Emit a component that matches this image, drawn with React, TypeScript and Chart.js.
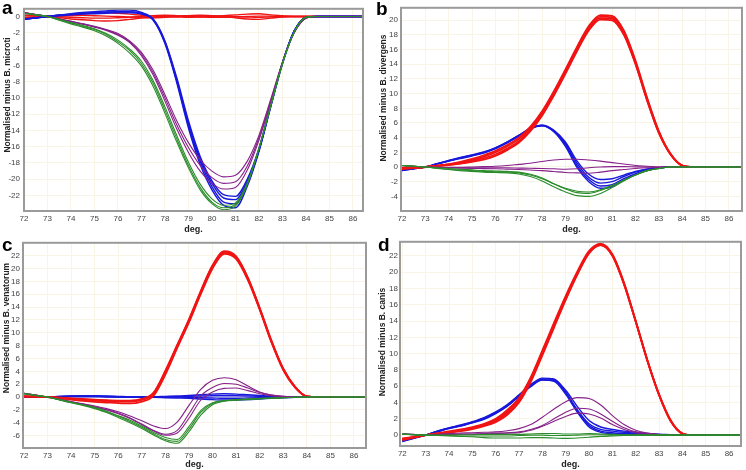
import React, { useEffect, useRef } from "react";
import { Chart, registerables } from "chart.js";
Chart.register(...registerables);

// ---------- data ----------
const TEMPS = [72, 72.5, 73, 73.5, 74, 74.5, 75, 75.5, 76, 76.5, 77, 77.5, 78, 78.5, 79, 79.5, 80, 80.5, 81, 81.5, 82, 82.5, 83, 83.5, 84, 84.5, 85.5, 86.5];
const X_TICKS = [72, 73, 74, 75, 76, 77, 78, 79, 80, 81, 82, 83, 84, 85, 86];
const Y_TICKS_A = [-22, -20, -18, -16, -14, -12, -10, -8, -6, -4, -2, 0];
const Y_TICKS_B = [-4, -2, 0, 2, 4, 6, 8, 10, 12, 14, 16, 18, 20];
const Y_TICKS_C = [-6, -4, -2, 0, 2, 4, 6, 8, 10, 12, 14, 16, 18, 20, 22];
const Y_TICKS_D = [0, 2, 4, 6, 8, 10, 12, 14, 16, 18, 20, 22];

// Panel a: Normalised minus B. microti
const A_RED_1 = [-0.2, -0.1, 0, -0.15, -0.3, -0.4, -0.5, -0.55, -0.5, -0.35, -0.2, -0.1, 0, 0.05, 0.1, 0.1, 0.05, 0, -0.15, -0.3, -0.35, -0.2, -0.05, 0, 0, 0, 0, 0];
const A_RED_2 = [0.1, 0.05, 0, 0.15, 0.25, 0.35, 0.45, 0.5, 0.4, 0.3, 0.15, 0.05, 0, -0.05, -0.1, -0.05, 0, 0.1, 0.2, 0.3, 0.35, 0.2, 0.1, 0, 0, 0, 0, 0];
const A_RED_3 = [-0.1, -0.05, 0, -0.05, -0.1, -0.15, -0.2, -0.2, -0.15, -0.1, 0, 0.1, 0.15, 0.1, 0, -0.05, -0.1, -0.1, -0.05, 0, 0.05, 0.05, 0, 0, 0, 0, 0, 0];
const A_RED_4 = [0.2, 0.1, 0, 0.05, 0.1, 0.15, 0.1, 0.05, 0, -0.05, -0.1, -0.15, -0.1, 0, 0.1, 0.15, 0.1, 0.05, 0, -0.05, -0.1, -0.05, 0, 0, 0, 0, 0, 0];
const A_BLUE_1 = [-0.3, -0.15, 0, 0.2, 0.35, 0.5, 0.6, 0.7, 0.8, 0.8, 0.5, -0.3, -3.0, -7.5, -12.8, -17.2, -20.2, -21.9, -22.1, -20.0, -16.2, -10.9, -5.7, -1.8, -0.1, 0, 0, 0];
const A_BLUE_2 = [-0.3, -0.15, 0, 0.15, 0.3, 0.4, 0.5, 0.55, 0.6, 0.6, 0.4, -0.35, -3.1, -7.7, -13.1, -17.5, -20.5, -22.3, -22.5, -20.3, -16.4, -11.0, -5.7, -1.8, -0.1, 0, 0, 0];
const A_BLUE_3 = [-0.35, -0.2, 0, 0.1, 0.2, 0.3, 0.35, 0.4, 0.45, 0.45, 0.3, -0.4, -3.2, -7.9, -13.4, -17.8, -20.9, -22.8, -23.0, -20.6, -16.5, -11.1, -5.8, -1.8, -0.1, 0, 0, 0];
const A_BLUE_4 = [-0.35, -0.2, 0, 0.15, 0.25, 0.35, 0.45, 0.5, 0.55, 0.55, 0.35, -0.45, -3.3, -8.1, -13.7, -18.2, -21.3, -23.2, -23.5, -20.9, -16.6, -11.1, -5.8, -1.8, -0.1, 0, 0, 0];
const A_PURPLE_1 = [0.5, 0.25, 0, -0.3, -0.6, -0.9, -1.2, -1.6, -2.1, -3.0, -4.4, -6.6, -9.6, -12.8, -15.5, -17.6, -19.0, -19.7, -19.5, -17.8, -14.6, -10.2, -5.6, -2.0, -0.2, 0, 0, 0];
const A_PURPLE_2 = [0.5, 0.25, 0, -0.3, -0.6, -0.9, -1.25, -1.65, -2.2, -3.1, -4.6, -6.9, -10.0, -13.3, -16.1, -18.3, -19.8, -20.5, -20.3, -18.4, -14.9, -10.4, -5.7, -2.0, -0.2, 0, 0, 0];
const A_PURPLE_3 = [0.5, 0.25, 0, -0.3, -0.65, -0.95, -1.3, -1.7, -2.3, -3.2, -4.8, -7.2, -10.4, -13.8, -16.7, -19.0, -20.5, -21.2, -21.0, -18.9, -15.2, -10.6, -5.7, -2.0, -0.2, 0, 0, 0];
const A_GREEN_1 = [0.4, 0.2, 0, -0.35, -0.75, -1.1, -1.5, -2.1, -2.9, -4.0, -5.5, -7.9, -11.1, -14.6, -17.9, -20.6, -22.4, -23.2, -22.9, -20.5, -16.2, -11.0, -5.8, -1.9, -0.1, 0, 0, 0];
const A_GREEN_2 = [0.4, 0.2, 0, -0.4, -0.8, -1.2, -1.6, -2.2, -3.1, -4.2, -5.8, -8.2, -11.5, -15.0, -18.3, -21.0, -22.8, -23.5, -23.1, -20.6, -16.2, -11.0, -5.8, -1.9, -0.1, 0, 0, 0];
const A_GREEN_3 = [0.4, 0.2, 0, -0.45, -0.9, -1.3, -1.75, -2.4, -3.3, -4.5, -6.1, -8.6, -11.9, -15.4, -18.6, -21.3, -23.0, -23.75, -23.3, -20.7, -16.3, -11.0, -5.8, -1.9, -0.1, 0, 0, 0];

// Panel b: Normalised minus B. divergens
const B_RED_1 = [-0.2, -0.1, 0, 0.15, 0.3, 0.5, 0.8, 1.2, 1.7, 2.5, 3.5, 5.1, 7.2, 9.9, 12.9, 16.0, 18.8, 20.3, 20.2, 18.2, 14.1, 9.1, 4.7, 1.7, 0.2, 0, 0, 0];
const B_RED_2 = [-0.2, -0.1, 0, 0.15, 0.35, 0.6, 0.95, 1.4, 2.0, 2.8, 3.8, 5.3, 7.4, 10.1, 13.1, 16.2, 19.0, 20.5, 20.4, 18.4, 14.3, 9.3, 4.8, 1.8, 0.2, 0, 0, 0];
const B_RED_3 = [-0.3, -0.15, 0, 0.2, 0.4, 0.7, 1.1, 1.6, 2.2, 3.0, 4.0, 5.5, 7.6, 10.3, 13.3, 16.4, 19.2, 20.7, 20.6, 18.6, 14.5, 9.4, 4.9, 1.8, 0.2, 0, 0, 0];
const B_RED_4 = [-0.1, -0.05, 0, 0.1, 0.25, 0.45, 0.7, 1.0, 1.5, 2.3, 3.3, 4.9, 7.0, 9.7, 12.7, 15.8, 18.6, 20.1, 20.0, 18.0, 14.0, 9.0, 4.6, 1.7, 0.2, 0, 0, 0];
const B_BLUE_1 = [-0.4, -0.2, 0, 0.4, 0.8, 1.15, 1.5, 1.9, 2.5, 3.3, 4.2, 5.2, 5.6, 5.0, 3.4, 0.8, -1.0, -1.7, -1.6, -1.1, -0.6, -0.3, -0.1, 0, 0, 0, 0, 0];
const B_BLUE_2 = [-0.4, -0.2, 0, 0.4, 0.8, 1.2, 1.55, 1.95, 2.5, 3.3, 4.2, 5.2, 5.7, 5.0, 3.2, 0.5, -1.4, -2.2, -2.0, -1.3, -0.7, -0.3, -0.1, 0, 0, 0, 0, 0];
const B_BLUE_3 = [-0.5, -0.25, 0, 0.45, 0.85, 1.25, 1.6, 2.0, 2.6, 3.4, 4.3, 5.3, 5.7, 4.9, 3.0, 0.2, -1.7, -2.6, -2.4, -1.6, -0.9, -0.4, -0.1, 0, 0, 0, 0, 0];
const B_BLUE_4 = [-0.5, -0.25, 0, 0.45, 0.9, 1.3, 1.65, 2.05, 2.6, 3.4, 4.3, 5.3, 5.6, 4.8, 2.8, -0.1, -2.0, -2.9, -2.7, -1.8, -1.0, -0.5, -0.15, 0, 0, 0, 0, 0];
const B_PURPLE_1 = [0.2, 0.1, 0, -0.05, -0.05, -0.05, 0, 0.05, 0.1, 0.2, 0.35, 0.5, 0.75, 0.95, 1.05, 1.05, 0.95, 0.8, 0.6, 0.4, 0.2, 0.1, 0, 0, 0, 0, 0, 0];
const B_PURPLE_2 = [0.2, 0.1, 0, -0.05, -0.1, -0.1, -0.1, -0.1, -0.1, -0.12, -0.15, -0.18, -0.2, -0.25, -0.3, -0.25, -0.1, 0, 0.05, 0.05, 0.02, 0, 0, 0, 0, 0, 0, 0];
const B_PURPLE_3 = [0.2, 0.1, 0, -0.05, -0.1, -0.15, -0.2, -0.22, -0.25, -0.3, -0.35, -0.42, -0.5, -0.62, -0.75, -0.8, -0.85, -0.7, -0.5, -0.35, -0.2, -0.1, -0.05, 0, 0, 0, 0, 0];
const B_GREEN_1 = [0.2, 0.1, 0, -0.15, -0.3, -0.4, -0.5, -0.6, -0.65, -0.7, -0.8, -1.1, -1.6, -2.3, -2.9, -3.3, -3.4, -3.1, -2.5, -1.8, -1.1, -0.5, -0.2, 0, 0, 0, 0, 0];
const B_GREEN_2 = [0.2, 0.1, 0, -0.1, -0.2, -0.3, -0.4, -0.5, -0.55, -0.6, -0.7, -1.0, -1.5, -2.3, -3.0, -3.5, -3.6, -3.2, -2.6, -1.8, -1.1, -0.5, -0.2, 0, 0, 0, 0, 0];
const B_GREEN_3 = [0.2, 0.1, 0, -0.2, -0.35, -0.5, -0.6, -0.7, -0.75, -0.8, -0.95, -1.3, -1.9, -2.7, -3.4, -3.9, -4.0, -3.6, -2.8, -1.9, -1.1, -0.5, -0.2, 0, 0, 0, 0, 0];

// Panel c: Normalised minus B. venatorum
const C_RED_1 = [0.1, 0.05, 0, -0.15, -0.3, -0.45, -0.55, -0.65, -0.7, -0.7, -0.45, 0.5, 3.8, 7.8, 11.8, 16.2, 20.2, 22.4, 21.6, 18.3, 13.7, 8.6, 4.3, 1.5, 0.1, 0, 0, 0];
const C_RED_2 = [0.1, 0.05, 0, -0.2, -0.4, -0.6, -0.75, -0.85, -0.95, -1.0, -0.7, 0.2, 3.5, 7.6, 11.6, 16.0, 20.0, 22.3, 21.5, 18.2, 13.6, 8.5, 4.2, 1.5, 0.1, 0, 0, 0];
const C_RED_3 = [0.1, 0.05, 0, -0.1, -0.2, -0.3, -0.4, -0.5, -0.55, -0.55, -0.3, 0.7, 4.1, 8.1, 12.1, 16.5, 20.5, 22.7, 21.9, 18.6, 13.9, 8.8, 4.4, 1.6, 0.1, 0, 0, 0];
const C_RED_4 = [0.1, 0.05, 0, -0.1, -0.25, -0.35, -0.45, -0.55, -0.6, -0.6, -0.35, 0.6, 4.0, 8.0, 12.0, 16.4, 20.4, 22.6, 21.8, 18.5, 13.8, 8.7, 4.4, 1.6, 0.1, 0, 0, 0];
const C_BLUE_1 = [0, 0, 0, 0.1, 0.15, 0.2, 0.2, 0.15, 0.1, 0.05, 0.05, 0.05, 0.1, 0.15, 0.25, 0.35, 0.45, 0.5, 0.45, 0.35, 0.25, 0.15, 0.05, 0, 0, 0, 0, 0];
const C_BLUE_2 = [0, 0, 0, 0.05, 0.1, 0.1, 0.1, 0.05, 0, 0, 0, 0, 0, 0, -0.05, -0.1, -0.15, -0.2, -0.2, -0.15, -0.1, -0.05, 0, 0, 0, 0, 0, 0];
const C_BLUE_3 = [0, 0, 0, 0.05, 0.05, 0.05, 0.05, 0, 0, -0.05, -0.05, -0.05, -0.1, -0.15, -0.2, -0.3, -0.4, -0.45, -0.45, -0.4, -0.3, -0.2, -0.1, -0.05, 0, 0, 0, 0];
const C_BLUE_4 = [0.05, 0.02, 0, 0.1, 0.15, 0.15, 0.15, 0.1, 0.05, 0, 0, 0, 0.05, 0.05, 0.1, 0.15, 0.2, 0.2, 0.2, 0.15, 0.1, 0.05, 0, 0, 0, 0, 0, 0];
const C_PURPLE_1 = [0.6, 0.3, 0, -0.35, -0.7, -1.05, -1.4, -1.8, -2.3, -2.95, -3.7, -4.5, -4.9, -3.9, -1.3, 1.2, 2.6, 3.0, 2.7, 1.7, 0.8, 0.3, 0.1, 0, 0, 0, 0, 0];
const C_PURPLE_2 = [0.6, 0.3, 0, -0.35, -0.75, -1.1, -1.5, -1.95, -2.5, -3.25, -4.2, -5.2, -5.8, -5.2, -2.6, 0.2, 1.5, 2.1, 2.0, 1.4, 0.7, 0.3, 0.1, 0, 0, 0, 0, 0];
const C_PURPLE_3 = [0.6, 0.3, 0, -0.4, -0.8, -1.15, -1.55, -2.0, -2.6, -3.35, -4.3, -5.3, -5.95, -5.6, -3.3, -0.5, 0.8, 1.35, 1.4, 1.0, 0.5, 0.2, 0.05, 0, 0, 0, 0, 0];
const C_GREEN_1 = [0.5, 0.25, 0, -0.4, -0.8, -1.2, -1.6, -2.2, -2.9, -3.6, -4.5, -5.5, -6.3, -6.6, -4.6, -2.1, -0.9, -0.55, -0.4, -0.3, -0.2, -0.15, -0.1, -0.05, 0, 0, 0, 0];
const C_GREEN_2 = [0.5, 0.25, 0, -0.4, -0.85, -1.25, -1.7, -2.3, -3.0, -3.8, -4.7, -5.7, -6.6, -6.9, -5.0, -2.4, -1.0, -0.6, -0.45, -0.35, -0.25, -0.15, -0.1, -0.05, 0, 0, 0, 0];
const C_GREEN_3 = [0.5, 0.25, 0, -0.45, -0.9, -1.3, -1.8, -2.4, -3.2, -4.0, -4.9, -5.9, -6.8, -7.2, -5.4, -2.8, -1.2, -0.65, -0.5, -0.4, -0.3, -0.2, -0.1, -0.05, 0, 0, 0, 0];

// Panel d: Normalised minus B. canis
const D_RED_1 = [-0.5, -0.25, 0, 0.2, 0.4, 0.6, 0.9, 1.3, 1.9, 2.9, 4.4, 6.9, 10.2, 13.6, 16.9, 19.9, 22.4, 23.3, 22.0, 18.5, 13.9, 9.1, 4.9, 1.7, 0.2, 0, 0, 0];
const D_RED_2 = [-0.6, -0.3, 0, 0.15, 0.3, 0.5, 0.75, 1.1, 1.6, 2.5, 4.0, 6.5, 9.8, 13.2, 16.6, 19.7, 22.3, 23.3, 22.0, 18.5, 13.9, 9.1, 4.9, 1.7, 0.2, 0, 0, 0];
const D_RED_3 = [-0.4, -0.2, 0, 0.25, 0.45, 0.7, 1.0, 1.4, 2.0, 3.1, 4.6, 7.1, 10.4, 13.8, 17.1, 20.1, 22.6, 23.5, 22.2, 18.7, 14.0, 9.2, 5.0, 1.8, 0.2, 0, 0, 0];
const D_RED_4 = [-0.5, -0.25, 0, 0.2, 0.35, 0.55, 0.85, 1.2, 1.75, 2.7, 4.2, 6.7, 10.0, 13.4, 16.7, 19.8, 22.4, 23.4, 22.1, 18.6, 14.0, 9.2, 5.0, 1.8, 0.2, 0, 0, 0];
const D_BLUE_1 = [-0.7, -0.35, 0, 0.5, 0.9, 1.2, 1.6, 2.1, 2.8, 3.7, 4.9, 6.1, 6.9, 6.8, 5.5, 3.5, 1.8, 1.0, 0.7, 0.5, 0.35, 0.2, 0.1, 0.05, 0, 0, 0, 0];
const D_BLUE_2 = [-0.7, -0.35, 0, 0.45, 0.85, 1.15, 1.55, 2.0, 2.7, 3.6, 4.8, 6.0, 6.8, 6.7, 5.2, 3.1, 1.4, 0.7, 0.5, 0.35, 0.25, 0.15, 0.1, 0.05, 0, 0, 0, 0];
const D_BLUE_3 = [-0.8, -0.4, 0, 0.5, 0.9, 1.25, 1.65, 2.15, 2.85, 3.75, 4.95, 6.2, 7.0, 6.9, 5.3, 3.0, 1.2, 0.5, 0.3, 0.2, 0.15, 0.1, 0.05, 0, 0, 0, 0, 0];
const D_BLUE_4 = [-0.6, -0.3, 0, 0.4, 0.8, 1.1, 1.5, 1.95, 2.65, 3.55, 4.75, 5.95, 6.75, 6.6, 5.0, 2.8, 1.0, 0.35, 0.15, 0.1, 0.1, 0.05, 0, 0, 0, 0, 0, 0];
const D_PURPLE_1 = [0.2, 0.1, 0, 0.1, 0.2, 0.25, 0.3, 0.35, 0.4, 0.55, 0.8, 1.3, 2.2, 3.2, 4.1, 4.6, 4.5, 3.7, 2.4, 1.3, 0.6, 0.25, 0.1, 0, 0, 0, 0, 0];
const D_PURPLE_2 = [0.1, 0.05, 0, 0.05, 0.1, 0.1, 0.15, 0.2, 0.25, 0.3, 0.4, 0.7, 1.2, 2.0, 2.8, 3.3, 3.2, 2.6, 1.7, 0.9, 0.4, 0.2, 0.05, 0, 0, 0, 0, 0];
const D_PURPLE_3 = [0.1, 0.05, 0, 0.05, 0.1, 0.1, 0.1, 0.15, 0.2, 0.25, 0.3, 0.6, 1.1, 1.7, 2.3, 2.7, 2.6, 2.1, 1.3, 0.7, 0.3, 0.1, 0.05, 0, 0, 0, 0, 0];
const D_GREEN_1 = [0.1, 0.05, 0, -0.05, -0.1, -0.15, -0.2, -0.3, -0.35, -0.35, -0.35, -0.3, -0.3, -0.35, -0.4, -0.35, -0.25, -0.15, -0.1, -0.05, 0, 0, 0, 0, 0, 0, 0, 0];
const D_GREEN_2 = [0.1, 0.05, 0, 0, 0, 0.05, 0.05, 0.1, 0.1, 0.1, 0.1, 0.15, 0.2, 0.2, 0.15, 0.15, 0.2, 0.15, 0.1, 0.05, 0, 0, 0, 0, 0, 0, 0, 0];
const D_GREEN_3 = [0.15, 0.07, 0, -0.05, -0.05, -0.1, -0.1, -0.1, -0.1, -0.1, -0.05, 0, 0, -0.05, -0.05, 0, 0.05, 0.05, 0, 0, 0, 0, 0, 0, 0, 0, 0, 0];

// ---------- styling ----------
const RED = "#f01414";
const BLUE = "#1818dc";
const PURPLE = "#86208a";
const GREEN = "#2a8c2a";
const FONT = '"Liberation Sans", Arial, sans-serif';
const GRID = "#f8f4e6";

type Group = { color: string; width: number; series: number[][] };
type PanelProps = {
  left: number; top: number; letter: string; letterX: number; letterY: number;
  yTitle: string; titleX: number; titleY: number;
  yMin: number; yMax: number; xMin: number; xMax: number; yTicks: number[];
  groups: Group[]; yWidth: number; xHeight: number; padTop: number; padRight: number; tickPad: number;
};

function Panel(p: PanelProps) {
  const ref = useRef<HTMLCanvasElement | null>(null);
  useEffect(() => {
    if (!ref.current) return;
    const datasets: any[] = [];
    p.groups.forEach((g) => {
      g.series.forEach((s) => {
        datasets.push({
          data: TEMPS.map((t, i) => ({ x: t, y: s[i] })),
          borderColor: g.color,
          borderWidth: g.width,
          pointRadius: 0,
          fill: false,
          cubicInterpolationMode: "monotone",
        });
      });
    });
    const framePlugin = {
      id: "frame" + p.letter,
      afterDraw(chart: any) {
        const { ctx, chartArea } = chart;
        ctx.save();
        ctx.strokeStyle = "#9a9a9a";
        ctx.lineWidth = 2;
        ctx.strokeRect(chartArea.left, chartArea.top, chartArea.right - chartArea.left, chartArea.bottom - chartArea.top);
        // y-axis title
        ctx.translate(p.titleX, p.titleY);
        ctx.rotate(-Math.PI / 2);
        ctx.fillStyle = "#222";
        ctx.font = "bold 8.5px " + FONT;
        ctx.textAlign = "center";
        ctx.textBaseline = "middle";
        ctx.fillText(p.yTitle, 0, 0);
        ctx.restore();
        ctx.save();
        ctx.fillStyle = "#000";
        ctx.font = "bold 19px " + FONT;
        ctx.textBaseline = "alphabetic";
        ctx.textAlign = "left";
        ctx.fillText(p.letter, p.letterX, p.letterY);
        ctx.restore();
      },
    };
    const chart = new Chart(ref.current, {
      type: "line",
      data: { datasets },
      plugins: [framePlugin],
      options: {
        animation: false,
        responsive: false,
        maintainAspectRatio: false,
        layout: { padding: { top: p.padTop, right: p.padRight, bottom: 0, left: 0 } },
        plugins: { legend: { display: false }, tooltip: { enabled: false } },
        events: [],
        scales: {
          x: {
            type: "linear",
            min: p.xMin,
            max: p.xMax,
            afterBuildTicks: (scale: any) => { scale.ticks = X_TICKS.map((v) => ({ value: v })); },
            afterFit: (scale: any) => { scale.height = p.xHeight; },
            grid: { color: GRID, lineWidth: 1, drawTicks: false },
            border: { display: false },
            ticks: { autoSkip: false, maxRotation: 0, padding: 3, color: "#444", font: { family: FONT, size: 8 } },
            title: { display: true, text: "deg.", color: "#222", padding: { top: 0, bottom: 0 }, font: { family: FONT, size: 9, weight: "bold" } },
          },
          y: {
            type: "linear",
            min: p.yMin,
            max: p.yMax,
            afterBuildTicks: (scale: any) => { scale.ticks = p.yTicks.map((v) => ({ value: v })); },
            afterFit: (scale: any) => { scale.width = p.yWidth; },
            grid: { color: GRID, lineWidth: 1, drawTicks: false },
            border: { display: false },
            ticks: { padding: p.tickPad, color: "#444", font: { family: FONT, size: 8 } },
            title: { display: false },
          },
        },
      } as any,
    });
    return () => chart.destroy();
  }, []);
  return (
    <canvas
      ref={ref}
      width={373}
      height={235}
      style={{ position: "absolute", left: p.left, top: p.top, width: 373, height: 235 }}
    />
  );
}

export default function App() {
  return (
    <div style={{ position: "absolute", left: 0, top: 0, width: 746, height: 470, background: "#fff", overflow: "hidden" }}>
      <Panel
        left={0} top={0} letter="a" letterX={2} letterY={14}
        yTitle="Normalised minus B. microti" titleX={8} titleY={95}
        yMin={-23.9} yMax={0.95} xMin={72} xMax={86.43} yTicks={Y_TICKS_A}
        yWidth={24} xHeight={24} padTop={2} padRight={10} tickPad={4}
        groups={[
          { color: GREEN, width: 1.1, series: [A_GREEN_1, A_GREEN_2, A_GREEN_3] },
          { color: PURPLE, width: 1.1, series: [A_PURPLE_1, A_PURPLE_2, A_PURPLE_3] },
          { color: BLUE, width: 1.4, series: [A_BLUE_1, A_BLUE_2, A_BLUE_3, A_BLUE_4] },
          { color: RED, width: 1.4, series: [A_RED_1, A_RED_2, A_RED_3, A_RED_4] },
        ]}
      />
      <Panel
        left={373} top={0} letter="b" letterX={3} letterY={15}
        yTitle="Normalised minus B. divergens" titleX={10.5} titleY={98}
        yMin={-6} yMax={21.7} xMin={71.96} xMax={86.56} yTicks={Y_TICKS_B}
        yWidth={28} xHeight={24} padTop={1} padRight={4} tickPad={3}
        groups={[
          { color: GREEN, width: 1.1, series: [B_GREEN_1, B_GREEN_2, B_GREEN_3] },
          { color: PURPLE, width: 1.1, series: [B_PURPLE_1, B_PURPLE_2, B_PURPLE_3] },
          { color: RED, width: 1.8, series: [B_RED_1, B_RED_2, B_RED_3, B_RED_4] },
          { color: BLUE, width: 1.4, series: [B_BLUE_1, B_BLUE_2, B_BLUE_3, B_BLUE_4] },
        ]}
      />
      <Panel
        left={0} top={235} letter="c" letterX={2} letterY={16}
        yTitle="Normalised minus B. venatorum" titleX={7} titleY={93}
        yMin={-7.93} yMax={24} xMin={71.96} xMax={86.51} yTicks={Y_TICKS_C}
        yWidth={23} xHeight={22} padTop={3} padRight={7} tickPad={3}
        groups={[
          { color: GREEN, width: 1.1, series: [C_GREEN_1, C_GREEN_2, C_GREEN_3] },
          { color: PURPLE, width: 1.1, series: [C_PURPLE_1, C_PURPLE_2, C_PURPLE_3] },
          { color: RED, width: 1.8, series: [C_RED_1, C_RED_2, C_RED_3, C_RED_4] },
          { color: BLUE, width: 1.4, series: [C_BLUE_1, C_BLUE_2, C_BLUE_3, C_BLUE_4] },
        ]}
      />
      <Panel
        left={373} top={235} letter="d" letterX={5} letterY={16}
        yTitle="Normalised minus B. canis" titleX={10} titleY={107}
        yMin={-1.33} yMax={23.72} xMin={71.9} xMax={86.51} yTicks={Y_TICKS_D}
        yWidth={27} xHeight={24} padTop={3} padRight={5} tickPad={2}
        groups={[
          { color: GREEN, width: 1.1, series: [D_GREEN_1, D_GREEN_2, D_GREEN_3] },
          { color: PURPLE, width: 1.1, series: [D_PURPLE_1, D_PURPLE_2, D_PURPLE_3] },
          { color: RED, width: 1.8, series: [D_RED_1, D_RED_2, D_RED_3, D_RED_4] },
          { color: BLUE, width: 1.4, series: [D_BLUE_1, D_BLUE_2, D_BLUE_3, D_BLUE_4] },
        ]}
      />
    </div>
  );
}
